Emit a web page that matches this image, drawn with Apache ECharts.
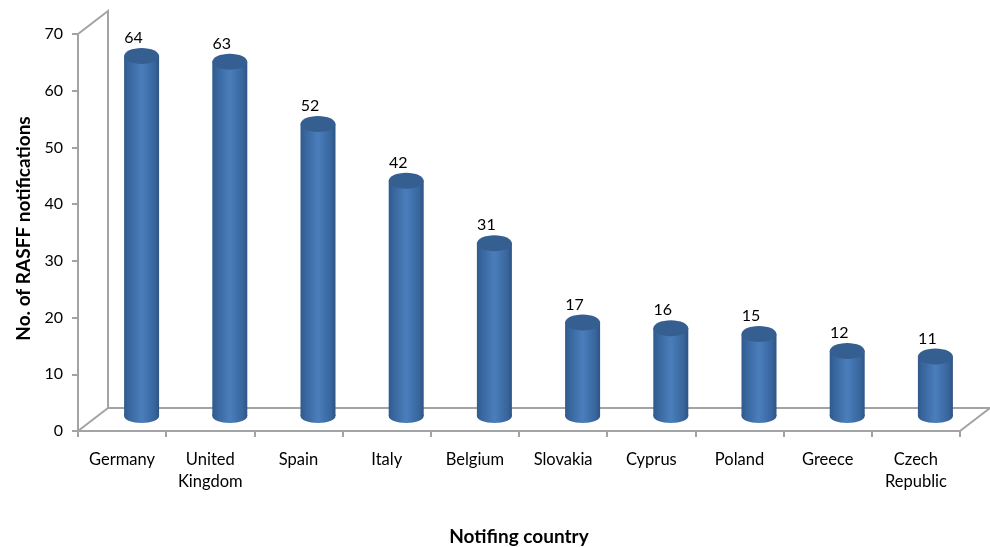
<!DOCTYPE html>
<html>
<head>
<meta charset="utf-8">
<style>html,body{margin:0;padding:0;background:#fff}#chart{width:990px;height:547px}</style>
<script src="https://cdn.jsdelivr.net/npm/echarts@6/dist/echarts.min.js"></script>
</head>
<body>
<div id="chart"></div>
<script>
const countries = ['Germany', 'United\nKingdom', 'Spain', 'Italy', 'Belgium', 'Slovakia', 'Cyprus', 'Poland', 'Greece', 'Czech\nRepublic'];
const notifications = [64, 63, 52, 42, 31, 17, 16, 15, 12, 11];
const valueTicks = { min: 0, max: 70, interval: 10 };

const FONT = 'Lato';
const AXIS_GREY = '#a3a3a3';
const DEPTH_X = 30, DEPTH_Y = 23;       // oblique offset of the back wall
const BAR_SHIFT_X = 19.5, BAR_BASE_Y = 15, BAR_TOP_Y = 12; // cylinder position inside the depth
const BAR_W = 35, CAP_RY = 8, BASE_RY = 7;

const body = new echarts.graphic.LinearGradient(0, 0, 1, 0, [
  { offset: 0, color: '#305a8c' },
  { offset: 0.14, color: '#38669e' },
  { offset: 0.5, color: '#4a7ebb' },
  { offset: 0.86, color: '#38669e' },
  { offset: 1, color: '#2f5583' }
]);

const chart = echarts.init(document.getElementById('chart'), null, { renderer: 'canvas' });

// Oblique wall and floor, anchored to the axes' own corners.
function renderWall(params, api) {
  const cs = params.coordSys;
  const x0 = cs.x, x1 = cs.x + cs.width;
  const yB = api.coord([0, valueTicks.min])[1], yT = api.coord([0, valueTicks.max])[1];
  return {
    type: 'polyline',
    silent: true,
    shape: { points: [
      [x0, yT], [x0 + DEPTH_X, yT - DEPTH_Y], [x0 + DEPTH_X, yB - DEPTH_Y],
      [x1 + DEPTH_X, yB - DEPTH_Y], [x1, yB]
    ] },
    style: { fill: 'none', stroke: AXIS_GREY, lineWidth: 2 }
  };
}
function renderFloorEdge(params, api) {
  const cs = params.coordSys;
  const yB = api.coord([0, valueTicks.min])[1];
  return {
    type: 'line',
    silent: true,
    shape: { x1: cs.x, y1: yB, x2: cs.x + DEPTH_X, y2: yB - DEPTH_Y },
    style: { stroke: AXIS_GREY, lineWidth: 2 }
  };
}

function renderCylinder(params, api) {
  const value = api.value(1);
  const cx = api.coord([api.value(0), 0])[0] + BAR_SHIFT_X;
  const y0 = api.coord([api.value(0), 0])[1] - BAR_BASE_Y;
  const yV = api.coord([api.value(0), value])[1] - BAR_TOP_Y;
  const rx = BAR_W / 2;
  return {
    type: 'group',
    children: [
      { type: 'rect', shape: { x: cx - rx, y: yV, width: BAR_W, height: y0 - yV }, style: { fill: body } },
      { type: 'ellipse', shape: { cx: cx, cy: y0, rx: rx, ry: BASE_RY }, style: { fill: body } },
      { type: 'ellipse', shape: { cx: cx, cy: yV, rx: rx, ry: CAP_RY }, style: { fill: '#365f91' } },
      { type: 'text', style: {
          text: String(value), x: cx - 8, y: yV - 18, align: 'center', verticalAlign: 'middle',
          font: '16px ' + FONT, fill: '#000'
      } }
    ]
  };
}

chart.setOption({
  animation: false,
  backgroundColor: '#fff',
  grid: { left: 78, right: 30, top: 34, bottom: 116, containLabel: false, outerBoundsMode: 'none' },
  xAxis: {
    type: 'category',
    data: countries,
    name: 'Notifing country',
    nameLocation: 'middle',
    nameGap: 106,
    nameTextStyle: { fontFamily: FONT, fontSize: 19, fontWeight: 'bold', color: '#000', verticalAlign: 'middle' },
    axisLine: { lineStyle: { color: AXIS_GREY, width: 2 } },
    axisTick: { show: true, length: 6, alignWithLabel: false, lineStyle: { color: AXIS_GREY, width: 2 } },
    axisLabel: { fontFamily: FONT, fontSize: 16.5, color: '#000', margin: 18, lineHeight: 22, interval: 0 },
    splitLine: { show: false }
  },
  yAxis: {
    type: 'value',
    min: valueTicks.min,
    max: valueTicks.max,
    interval: valueTicks.interval,
    name: 'No. of RASFF notifications',
    nameLocation: 'middle',
    nameGap: 54,
    nameTextStyle: { fontFamily: FONT, fontSize: 19, fontWeight: 'bold', color: '#000', verticalAlign: 'middle', padding: [0, 0, 0, 8] },
    axisLine: { show: true, lineStyle: { color: AXIS_GREY, width: 2 } },
    axisTick: { show: true, length: 6, lineStyle: { color: AXIS_GREY, width: 2 } },
    axisLabel: { fontFamily: FONT, fontSize: 16, color: '#000', margin: 15, padding: [3, 0, 0, 0] },
    splitLine: { show: false }
  },
  series: [
    { type: 'custom', renderItem: renderWall, data: [[0, 0]], silent: true, z: 1 },
    { type: 'custom', renderItem: renderFloorEdge, data: [[0, 0]], silent: true, z: 1 },
    { type: 'custom', renderItem: renderCylinder, z: 3, clip: false,
      data: countries.map((c, i) => [i, notifications[i]]),
      encode: { x: 0, y: 1 } }
  ]
});
</script>
</body>
</html>
